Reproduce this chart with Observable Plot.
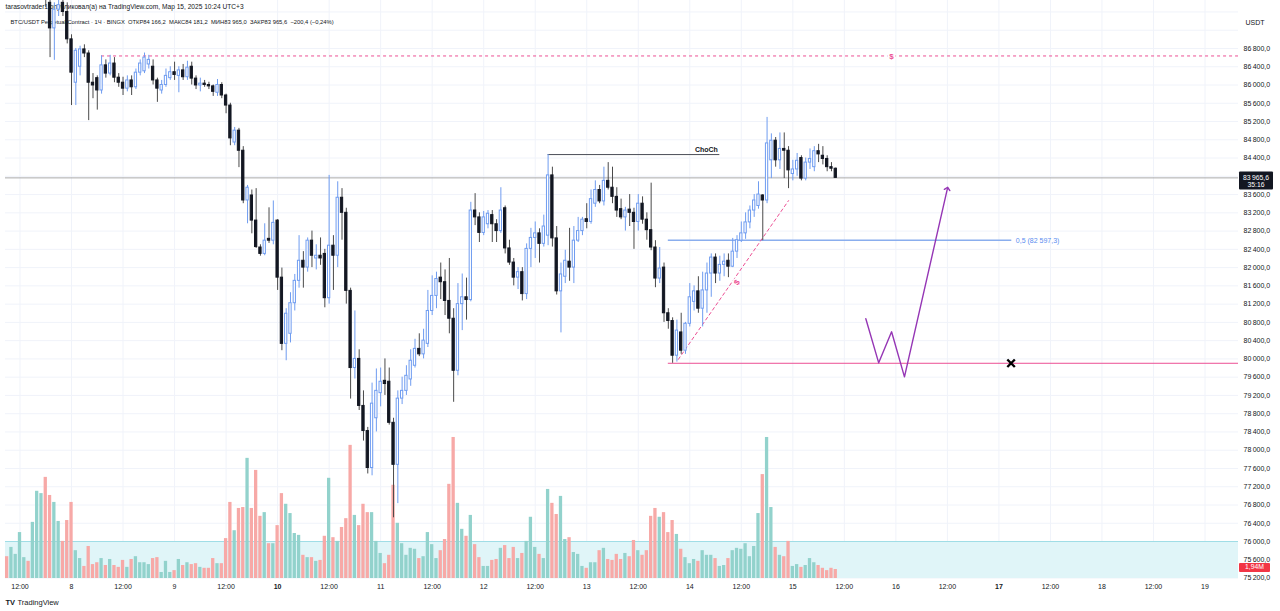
<!DOCTYPE html>
<html><head><meta charset="utf-8">
<script src="https://cdn.jsdelivr.net/npm/d3@7"></script>
<script src="https://cdn.jsdelivr.net/npm/@observablehq/plot@0.6"></script>
<style>
html,body{margin:0;padding:0;background:#fff;}
#wrap{position:relative;width:1280px;height:611px;overflow:hidden;}
#wrap > svg{position:absolute;left:0;top:0;}
</style></head><body><div id="wrap"></div>
<script>
// ---------- DATA (1h candles, BTC/USDT Perpetual, BINGX, UTC+3 shown) ----------
const startTime = "2025-03-07T09:00:00Z";
const open = [88900,88600,89000,89100,89700,89800,89600,90000,90400,90500,
87800,87240,87650,87800,87600,87000,86050,86400,86780,86690,
86050,86150,85880,86430,86250,86470,86160,86050,85920,86100,
85950,86270,86300,86450,86400,86100,85880,86000,86150,86280,
86200,86320,86170,86400,86140,85990,86030,86000,85970,85830,
86000,85770,85550,84740,85000,84560,83470,83580,83030,82440,
82300,82630,82590,83030,81780,80330,80550,81220,81710,82150,
82000,82590,82200,82260,82300,81330,82480,82260,83530,83200,
81490,79800,80000,78970,78420,77610,78700,79250,79520,79500,
78600,77680,79130,79300,79550,79850,80220,80100,80330,81050,
81380,81780,81680,81270,80880,79740,81200,81350,81290,83250,
83100,82760,82950,83150,82950,82800,83300,82420,82110,81780,
81900,81420,82410,82650,82750,82520,82700,84020,82640,81480,
81800,82130,82000,82590,82800,83060,83000,83400,83700,83450,
83900,83750,83550,83280,83100,83270,83200,83000,83400,83050,
82820,82440,81760,82000,81000,80830,80070,80580,80180,80770,
81250,81480,81100,81500,81870,82220,81870,82060,82150,82020,
82350,82590,82750,82990,83250,83350,83580,83470,84350,84780,
84350,84600,84560,84050,84150,84400,83950,84300,84200,84550,
84450,84380,84200,84166.2];
const high = [89200,89100,89300,89900,89900,89900,90200,90600,90800,90600,
87850,87800,87850,87850,87800,87100,86800,86850,86880,86750,
86250,86200,86640,86550,86650,86600,86250,86170,86200,86200,
86350,86550,86700,86650,86550,86150,86100,86350,86400,86500,
86400,86450,86520,86500,86200,86150,86100,86060,86000,86120,
86050,85800,85600,85070,85050,84650,83800,83700,83730,82500,
82960,83310,83460,83050,81990,81100,81450,81850,82700,82350,
82650,82800,82500,82650,82400,84020,82700,83880,83730,83300,
81550,81050,80200,79300,78500,79470,79780,79800,80000,79800,
78700,79300,79600,79850,80200,80430,80550,80650,81500,81820,
81900,82100,81950,82200,81100,81650,81860,81770,83430,83620,
83200,83230,83250,83250,83050,83750,83350,82600,82200,82000,
82000,82520,82860,83000,82850,83150,84476,84200,82900,82100,
82380,82860,82900,83100,83100,83400,83700,83900,83800,84200,
84300,84200,83750,83500,83320,83600,83300,83600,83550,83200,
83850,82590,82440,82100,81100,80900,80850,81000,80800,81650,
81600,81800,81900,82100,82300,82300,82250,82300,82300,82640,
82700,83000,83200,83350,83600,83880,83600,85290,84930,84850,
84950,84950,84650,84350,84500,84450,84400,84600,84650,84700,
84650,84450,84300,84181.2];
const low = [88500,88500,88800,89000,89400,89500,89500,89700,89600,87700,
86600,86540,87500,87500,86900,85550,85550,86200,86600,85220,
85700,85450,85800,86150,86200,86050,85950,85770,85850,85770,
85900,86200,86250,86350,86000,85620,85800,85950,86100,86100,
85830,86100,86100,86000,85900,85850,85950,85900,85750,85750,
85700,85370,84670,84670,84190,83400,82960,82740,82420,82250,
82260,82530,82500,81500,80180,79960,80350,81050,81550,81550,
81900,82000,81950,82050,81120,81200,81500,82000,82600,81200,
79120,79560,78870,78200,77480,77440,78400,78950,79200,78550,
76520,76830,79000,79200,79400,79800,80050,80000,80250,80950,
81100,81300,80950,80550,79050,79630,80620,80850,81250,82920,
82550,82700,82850,82550,82550,82750,82300,82050,81600,81520,
81270,81300,82000,82200,82100,82450,82480,82450,81400,80570,
81650,81700,81650,82550,82700,82850,82950,83320,83400,83350,
83700,83400,83100,83050,82800,82900,82400,82800,82950,82600,
82370,81560,81650,80800,80650,79904.6,79930,80100,80100,80700,
81050,81000,80700,81000,81350,81650,81700,81800,81780,82000,
82200,82550,82620,82850,83100,83280,82590,83400,83950,84200,
84150,83950,83730,83900,84000,83900,83900,84150,84100,84300,
84250,84100,84100,83965.0];
const close = [88600,89000,89100,89700,89800,89600,90000,90400,90500,87900,
87240,87650,87750,87600,87000,86270,86750,86780,86690,86050,
85990,85880,86430,86250,86470,86160,86050,85920,86100,85950,
86270,86470,86600,86550,86100,85920,86000,86200,86280,86220,
86320,86170,86380,86140,85990,86030,86000,85970,85850,86000,
85770,85550,84830,85000,84560,83470,83750,83030,82450,82300,
82590,82590,82980,81780,80330,80990,81220,81710,82150,82000,
82590,82260,82260,82200,81330,82480,82260,83530,83200,81490,
79800,80000,78970,78420,77610,79020,79300,79500,79450,78600,
77680,79130,79300,79630,79960,80220,80100,80400,81050,81380,
81750,81680,81270,80880,79740,81200,81350,81290,83250,83100,
82760,83100,83180,82950,82800,83250,82420,82110,81780,81900,
81420,82410,82650,82750,82520,82900,84020,82640,81480,81850,
82150,82000,82590,82800,83050,83000,83500,83700,83450,83900,
83750,83550,83250,83100,83250,83200,83000,83400,83050,82820,
82440,81760,81980,81000,80830,80070,80620,80180,80770,81350,
81480,81100,81500,81870,82220,81870,82060,82130,82020,82350,
82600,82750,82990,83250,83470,83600,83470,84720,84780,84350,
84600,84560,84130,84150,84340,83950,84300,84380,84550,84480,
84380,84200,84166.2,83965.6];
const volume = [4.7,6.7,5.2,9.9,4.5,3.7,12.1,18.8,18.3,21.8,
17.9,16.4,12.3,8.0,12.5,16.4,6.0,4.3,2.6,6.9,
3.0,3.4,4.3,2.8,4.1,2.8,2.4,3.9,2.4,4.1,
4.7,3.4,3.4,3.0,4.3,4.5,1.3,3.7,1.3,1.7,
4.1,2.8,3.4,3.0,3.2,2.4,2.2,2.2,4.3,3.2,
3.2,8.6,16.4,10.3,15.1,15.3,25.9,15.1,23.3,13.4,
14.2,7.5,7.5,11.4,18.3,16.0,14.0,9.7,9.3,5.0,
4.5,4.5,3.7,3.9,9.1,21.6,8.8,8.0,11.0,12.9,
28.7,13.6,11.4,16.0,14.2,14.2,8.0,5.4,3.2,5.0,
20.1,11.9,7.5,5.0,6.5,6.3,4.3,4.7,9.9,7.3,
4.3,6.0,8.4,20.3,30.4,16.2,10.6,9.1,13.6,7.3,
4.5,2.6,2.6,3.9,4.1,6.5,7.1,4.3,6.7,4.3,
5.4,8.0,13.2,6.7,5.2,4.3,19.2,16.2,13.8,17.7,
8.4,8.8,5.6,5.2,2.6,2.2,3.4,3.4,6.0,6.5,
4.1,3.9,5.2,4.1,5.4,4.7,8.2,6.0,5.0,6.0,
13.4,15.1,13.2,14.2,9.9,12.5,9.5,6.3,4.5,3.2,
4.1,3.7,6.0,5.0,5.0,4.3,2.6,2.8,4.3,6.0,
6.5,6.3,7.5,4.7,6.9,14.0,22.4,30.4,15.3,6.7,
5.0,4.7,8.0,2.6,3.0,2.4,2.8,4.3,3.4,2.8,
2.2,1.7,2.2,1.94];
const lastVolumeLabel = "1,94M";
const countdown = "35:16";

const gridTicks = [75200,75600,76000,76400,76800,77200,77600,78000,78400,78800,79200,79600,
80000,80400,80800,81200,81600,82000,82400,82800,83200,83600,84000,84400,84800,85200,85600,
86000,86400,86800,87200,87600];
// axis labels shown (84 000,0 sits under the last-price box; 87 200,0 under "USDT")
const labelTicks = [75200,75600,76000,76400,76800,77200,77600,78000,78400,78800,79200,79600,
80000,80400,80800,81200,81600,82000,82400,82800,83200,83600,84400,84800,85200,85600,
86000,86400,86800];
const tickTimes = ["2025-03-07T12:00Z","2025-03-08T00:00Z","2025-03-08T12:00Z","2025-03-09T00:00Z",
"2025-03-09T12:00Z","2025-03-10T00:00Z","2025-03-10T12:00Z","2025-03-11T00:00Z","2025-03-11T12:00Z",
"2025-03-12T00:00Z","2025-03-12T12:00Z","2025-03-13T00:00Z","2025-03-13T12:00Z","2025-03-14T00:00Z",
"2025-03-14T12:00Z","2025-03-15T00:00Z","2025-03-15T12:00Z","2025-03-16T00:00Z","2025-03-16T12:00Z",
"2025-03-17T00:00Z","2025-03-17T12:00Z","2025-03-18T00:00Z","2025-03-18T12:00Z","2025-03-19T00:00Z"];
const tickLabels = ["12:00","8","12:00","9","12:00","10","12:00","11","12:00","12","12:00","13",
"12:00","14","12:00","15","12:00","16","12:00","17","12:00","18","12:00","19"];
const boldLabels = ["10","17"];

// drawings
const liquidityLevel = 86636;
const liquidityStart = "2025-03-08T07:00Z";
const liquidityLabelTime = "2025-03-15T23:00Z";
const chochLevel = 84476;
const chochRange = ["2025-03-12T15:00Z","2025-03-14T07:00Z"];
const fibLevel = 82597.3;
const fibLabel = "0,5 (82 597,3)";
const fibRange = ["2025-03-13T19:00Z","2025-03-17T03:00Z"];
const lowLevel = 79904.6;
const lowStart = "2025-03-13T19:00Z";
const crossPoint = {t:"2025-03-17T02:50Z", p:79904.6};
const trendLine = [{t:"2025-03-13T21:20Z", p:79990},{t:"2025-03-14T23:00Z", p:83467}];
const trendLabel = {t:"2025-03-14T11:00Z", p:81674};
const pathTimes = ["2025-03-15T17:00Z","2025-03-15T20:00Z","2025-03-15T23:00Z","2025-03-16T02:00Z","2025-03-16T12:00Z"];
const pathPrices = [80879,79914,80594,79607,83730];
const band = [{lo:75190, hi:76000}];

const headerLine1 = "tarasovtrader1 опубликовал(а) на TradingView.com, Мар 15, 2025 10:24 UTC+3";
const headerLine2 = "BTC/USDT Perpetual Contract · 1Ч · BINGX  ОТКР84 166,2  МАКС84 181,2  МИН83 965,0  ЗАКР83 965,6  −200,4 (−0,24%)";

// ---------- BUILD ----------
const HOUR = 3600e3;
const t0 = new Date(startTime).getTime();
const candles = open.map((o, i) => ({
  t: new Date(t0 + i * HOUR), t1: new Date(t0 + i * HOUR - HOUR / 2), t2: new Date(t0 + i * HOUR + HOUR / 2),
  o, h: high[i], l: low[i], c: close[i], v: volume[i], up: close[i] >= o,
  bLo: Math.min(o, close[i]), bHi: Math.max(o, close[i])
}));
const last = candles[candles.length - 1];
const ticks = tickTimes.map((d, i) => ({t: new Date(d), label: tickLabels[i]}));
const xDomain = [new Date("2025-03-07T08:37:23Z"), new Date("2025-03-19T07:48:00Z")];
const yDomain = [75190, 87851];
const loc = d3.formatLocale({decimal: ",", thousands: "\u202f", grouping: [3], currency: ["", ""]});
const fmtPrice = loc.format(",.1f");

const FONT = "'Liberation Sans', Arial, sans-serif";
const common = {width: 1280, height: 611, marginLeft: 5, marginRight: 42, marginTop: 0, marginBottom: 33,
  style: {background: "transparent", fontFamily: FONT, fontSize: "7px", color: "#131722"}};
const UP = "#6f9cf0", DOWN = "#131722", DOWNWICK = "#4a4a4a";
const PINK = "#ec4f94", PURPLE = "#9536b5";

const wrap = document.getElementById("wrap");

// layer 1: grid + band
const grid = Plot.plot({...common,
  x: {type: "utc", domain: xDomain, axis: null},
  y: {domain: yDomain, axis: null},
  marks: [
    Plot.ruleY(gridTicks, {stroke: "#f0f3fa"}),
    Plot.ruleX(ticks, {x: "t", stroke: "#f0f3fa"}),
    Plot.rect(band, {y1: "lo", y2: "hi", fill: "#e0f5f8"}),
    Plot.ruleY(band, {y: "hi", stroke: "#9fdde6"})
  ]});
wrap.appendChild(grid);

// layer 2: volume
const vol = Plot.plot({...common,
  x: {type: "utc", domain: xDomain, axis: null},
  y: {domain: [0, 124.6], axis: null},
  color: {type: "identity"},
  marks: [
    Plot.rectY(candles, {x1: "t1", x2: "t2", y: "v", fill: d => d.up ? "#92d2cc" : "#f7a9a7", insetLeft: 0.5, insetRight: 0.5})
  ]});
wrap.appendChild(vol);

// layer 3: price
const price = Plot.plot({...common,
  x: {type: "utc", domain: xDomain, axis: null},
  y: {domain: yDomain, axis: "right", ticks: labelTicks, tickFormat: fmtPrice, tickSize: 0, tickPadding: 5, label: null},
  color: {type: "identity"},
  marks: [
    Plot.text([headerLine1], {frameAnchor: "top-left", dx: 0, dy: 4, textAnchor: "start", lineAnchor: "top", fontSize: 6.6, fill: "#131722"}),
    Plot.text([headerLine2], {frameAnchor: "top-left", dx: 5, dy: 19.5, textAnchor: "start", lineAnchor: "top", fontSize: 5.8, fill: "#131722"}),
    Plot.ruleY([last.c], {stroke: "#ababab", strokeWidth: 1}),
    Plot.ruleY([liquidityLevel], {x1: new Date(liquidityStart), x2: xDomain[1], stroke: PINK, strokeDasharray: "3,3", strokeWidth: 1}),
    Plot.text(["$"], {x: new Date(liquidityLabelTime), y: liquidityLevel, fill: PINK, fontSize: 8, fontWeight: "bold", stroke: "white", strokeWidth: 4, paintOrder: "stroke"}),
    Plot.ruleY([chochLevel], {x1: new Date(chochRange[0]), x2: new Date(chochRange[1]), stroke: "#4a4d57", strokeWidth: 1}),
    Plot.text(["ChoCh"], {x: new Date(chochRange[1]), y: chochLevel, textAnchor: "end", dx: -2, dy: -5, fontSize: 7, fontWeight: "bold", fill: "#131722"}),
    Plot.ruleY([fibLevel], {x1: new Date(fibRange[0]), x2: new Date(fibRange[1]), stroke: "#8aaeee", strokeWidth: 1.5}),
    Plot.text([fibLabel], {x: new Date(fibRange[1]), y: fibLevel, textAnchor: "start", dx: 4, fontSize: 7, fill: "#5b8def"}),
    Plot.ruleY([lowLevel], {x1: new Date(lowStart), x2: xDomain[1], stroke: PINK, strokeWidth: 1}),
    Plot.dot([crossPoint], {x: d => new Date(d.t), y: "p", symbol: "times", r: 3.5, stroke: "#000", strokeWidth: 2.4}),
    Plot.line(trendLine, {x: d => new Date(d.t), y: "p", stroke: PINK, strokeDasharray: "3,3", strokeWidth: 1}),
    Plot.text([trendLabel], {x: d => new Date(d.t), y: "p", text: () => "$", rotate: -55, fill: PINK, fontSize: 8, fontWeight: "bold", stroke: "white", strokeWidth: 3, paintOrder: "stroke"}),
    Plot.line(pathTimes.map((t, i) => ({t: new Date(t), p: pathPrices[i]})), {x: "t", y: "p", stroke: PURPLE, strokeWidth: 1.4, markerEnd: "arrow"}),
    Plot.ruleX(candles, {x: "t", y1: "l", y2: "h", stroke: d => d.up ? UP : DOWNWICK, strokeWidth: 1, clip: true}),
    Plot.rect(candles, {x1: "t1", x2: "t2", y1: "bLo", y2: "bHi", fill: d => d.up ? "#ffffff" : DOWN, stroke: d => d.up ? UP : DOWN, strokeWidth: 1, insetLeft: 1, insetRight: 1, clip: true}),
    Plot.text(ticks.filter(d => !boldLabels.includes(d.label)), {x: "t", text: "label", frameAnchor: "bottom", dy: 8, lineAnchor: "middle", fontSize: 7, fill: "#131722"}),
    Plot.text(ticks.filter(d => boldLabels.includes(d.label)), {x: "t", text: "label", frameAnchor: "bottom", dy: 8, lineAnchor: "middle", fontSize: 7, fontWeight: "bold", fill: "#131722"}),
    Plot.text(["TV"], {frameAnchor: "bottom-left", dx: 0, dy: 24, textAnchor: "start", lineAnchor: "middle", fontSize: 7.5, fontWeight: "bold", fill: "#131722"}),
    Plot.text(["TradingView"], {frameAnchor: "bottom-left", dx: 12, dy: 24, textAnchor: "start", lineAnchor: "middle", fontSize: 7.5, fill: "#131722"}),
    Plot.text(["USDT"], {frameAnchor: "top-right", dx: 7, dy: 22, textAnchor: "start", lineAnchor: "middle", fontSize: 7, fill: "#131722"})
  ]});
wrap.appendChild(price);

// last price / volume labels on the right scale
const ps = d3.select(price);
const yc = price.scale("y").apply(last.c);
const g = ps.append("g").attr("font-family", FONT);
g.append("rect").attr("x", 1239).attr("y", yc - 6).attr("width", 34).attr("height", 18).attr("fill", "#131722").attr("rx", 1);
g.append("text").attr("x", 1256).attr("y", yc + 0.5).attr("text-anchor", "middle").attr("fill", "#ffffff").attr("font-size", 6.8).attr("dominant-baseline", "middle").text(fmtPrice(last.c));
g.append("text").attr("x", 1256).attr("y", yc + 7.5).attr("text-anchor", "middle").attr("fill", "#ffffff").attr("font-size", 6.8).attr("dominant-baseline", "middle").text(countdown);
const yv = vol.scale("y").apply(last.v);
g.append("rect").attr("x", 1239).attr("y", yv - 6).attr("width", 31).attr("height", 9).attr("fill", "#f23645").attr("rx", 1);
g.append("text").attr("x", 1254.5).attr("y", yv - 1.5).attr("text-anchor", "middle").attr("fill", "#ffffff").attr("font-size", 6.8).attr("dominant-baseline", "middle").text(lastVolumeLabel);
</script>
</body></html>
